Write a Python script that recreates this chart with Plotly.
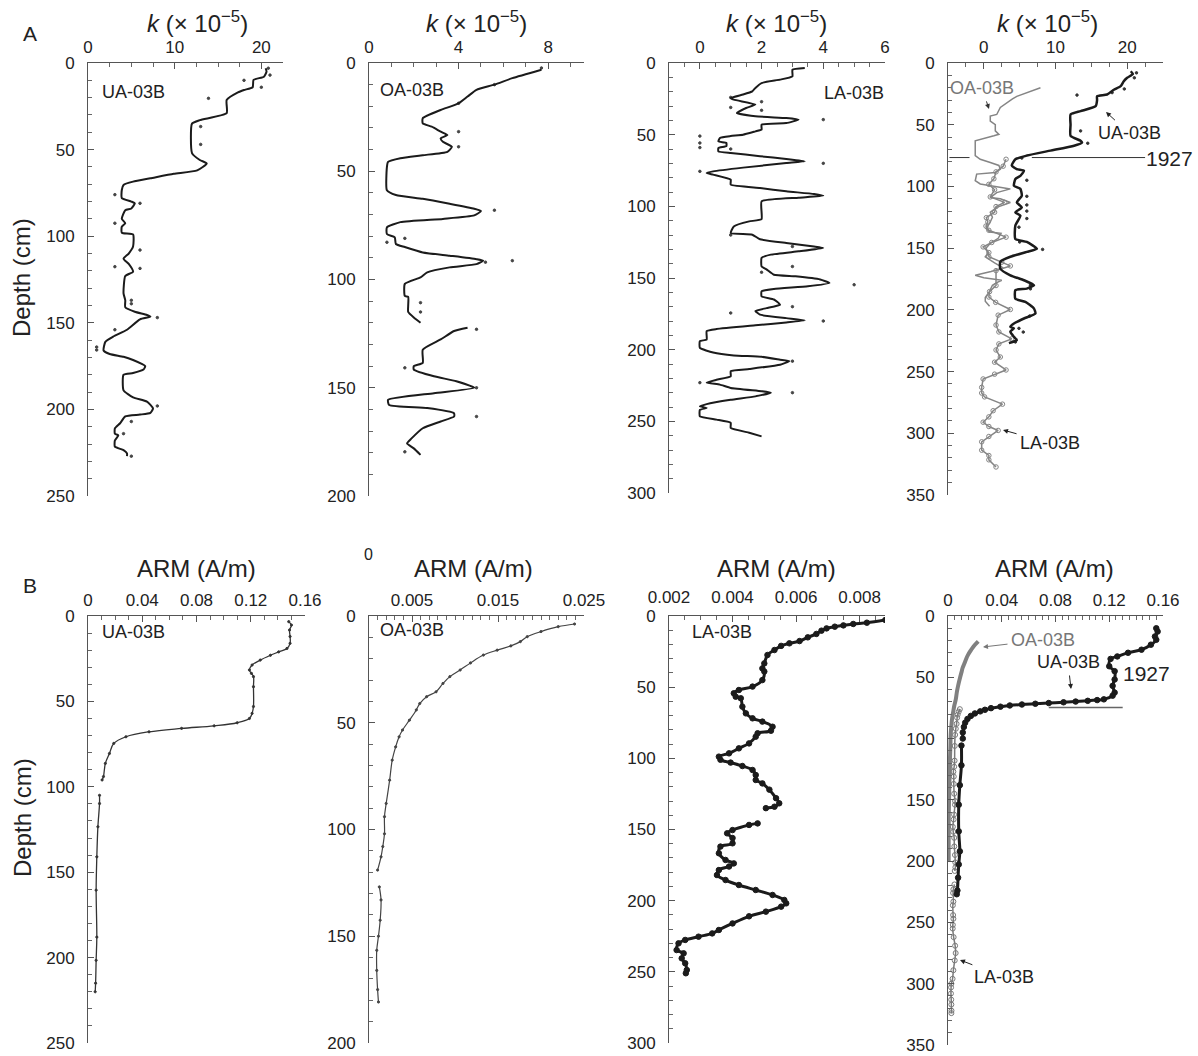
import plotly.graph_objects as go

# ------------------------------------------------------------------ data
# Row A : magnetic susceptibility k (x 10^-5) versus depth (cm)
# A1  UA-03B
ua_k_depth = [3, 5, 7.9, 9.8, 14, 15.6, 17, 21.4, 29, 33,
              35, 52, 56, 58, 62, 64, 66.6, 68.5, 70.4, 73.3,
              78, 80, 81, 84, 85, 90, 92.5, 94.5, 98, 99,
              106, 110, 113, 116, 120.5, 123, 133, 137, 141, 143.6,
              145.5, 146.5, 148, 154, 158, 161, 166, 168, 169.6, 171.5,
              175, 177, 179, 180, 189, 193, 195.5, 199.4, 202, 203,
              204, 208, 211, 214, 215, 218, 221.5, 223.5, 225.4, 227]
ua_k_val = [20.5, 20.6, 20.3, 19.1, 19.0, 18.0, 17.3, 16.0, 16.0, 12.9,
            12.0, 12.0, 12.9, 13.7, 12.6, 9.9, 7.2, 5.2, 4.1, 3.9,
            3.9, 5.0, 5.4, 5.0, 4.3, 3.9, 4.3, 3.9, 3.9, 5.2,
            5.2, 4.7, 4.1, 4.7, 5.2, 4.3, 4.1, 4.3, 4.3, 5.4,
            6.8, 7.2, 6.0, 4.5, 2.9, 2.0, 1.8, 2.5, 4.1, 5.2,
            6.6, 6.4, 5.2, 4.1, 4.1, 5.2, 6.8, 7.5, 7.2, 6.0,
            4.3, 3.7, 3.1, 3.1, 3.5, 3.1, 3.1, 4.1, 4.5, 4.5]
ua_k_pts_depth = [3, 7, 10, 14, 20.4, 36.7, 47, 76, 81, 92.5, 108, 117.6,
                  118.6, 137, 139, 147, 154, 164, 165.7, 198, 207, 214, 227]
ua_k_pts_val = [20.8, 21, 18, 20, 13.9, 13, 13, 3.1, 6, 3.1, 6, 3.1,
                6, 5, 5, 8, 3.1, 1, 1, 8, 5, 4.1, 5]

# A2  OA-03B
oa_k_depth = [3.1, 7, 10, 12.4, 15.5, 18.6, 21.7, 25.5, 27.9, 29.4,
              31.7, 33.3, 34.8, 36.4, 38.7, 41, 42.6, 44, 45.7, 48,
              58.8, 61, 62.7, 65, 67.3, 68.4, 70.4, 72, 73.5, 75.9,
              79, 80.5, 83.6, 85, 87.5, 89, 90.6, 91.3, 92.9, 94.4,
              96.7, 99, 102, 107.6, 108, 112, 115, 117.6, 120, None,
              122.3, 123.8, 127.7, 132.4, 138.5, 140, 141.6, 144.7, 147, 150,
              152.5, 155.6, 158, 159.4, 161.8, 163.3, 165.6, 168.7, 173.4, 175.7,
              178, 181]
oa_k_val = [7.7, 6.4, 5.6, 4.8, 4.4, 4.0, 3.2, 2.4, 2.4, 2.8,
            3.2, 3.5, 3.2, 3.3, 3.7, 3.5, 2.4, 1.4, 0.85, 0.8,
            0.8, 1.2, 2.4, 3.6, 4.7, 5.0, 4.7, 3.3, 1.4, 0.8,
            0.8, 1.15, 1.2, 1.6, 2.4, 3.6, 4.8, 5.1, 4.8, 3.6,
            2.6, 2.3, 1.6, 1.6, 1.75, 1.75, 1.75, 2.0, 2.3, None,
            4.4, 3.8, 3.2, 2.4, 2.4, 2.0, 2.0, 2.9, 3.9, 4.7,
            2.9, 0.85, 0.9, 2.6, 3.8, 3.8, 3.2, 2.4, 1.9, 1.7,
            2.0, 2.3]
oa_k_pts_depth = [2.3, 10, 18.6, 31.7, 38.7, 68, 92, 91.3, 82.8, 81, 110.7,
                  115, 123, 140.8, 150, 163.3, 179.6]
oa_k_pts_val = [7.7, 5.6, 4, 4, 4, 5.6, 5.2, 6.4, 0.8, 1.6, 2.3,
                2.3, 4.8, 1.6, 4.8, 4.8, 1.6]

# A3  LA-03B
la_k_depth = [3.5, 4.7, 9.3, 11.6, 14, 17.4, 19.8, 22, 24.4, 25.6,
              29, 31.4, 34.9, 37.2, 38.4, 39.5, 41.9, 43, 46.5, 47.7,
              50, 51, 52.3, 54.7, 55.8, 58, 59.3, 61.6, 62.8, 65,
              67, 68.6, 69.8, 73, 75.6, 76.7, 77.9, 81.4, 84.9, 87.2,
              89.5, 91.4, 92.6, 94, 96.5, 109, 110.5, 114, 118.6, 119.8,
              123, 125.6, 128, 129, 131.4, 133.7, 136, 142, 144, 147.7,
              148.8, 151, 153.5, 155.8, 157.7, 159.3, 162.8, 165, 168.6, 171,
              173, 175.6, 178, 179.5, 181, 183, 185.6, 187, 193, 194,
              198.8, 202, 204, 205, 207, 208, 210.5, 213.5, 215, 218.6,
              221, 223, 224.4, 226.7, 229, 230, 232.6, 235, 238, 239.5,
              240.7, 242, 246.5, 248.8, 251, 254.6, 258, 260.5]
la_k_val = [3.4, 3.0, 3.0, 2.6, 2.0, 1.8, 1.7, 1.4, 1.0, 1.1,
            1.8, 1.5, 1.2, 1.8, 2.8, 3.2, 2.8, 2.0, 2.0, 1.8,
            1.4, 1.0, 0.65, 0.6, 0.86, 0.86, 0.6, 0.6, 1.0, 1.95,
            2.8, 3.4, 2.8, 1.4, 0.43, 0.22, 0.43, 1.0, 1.0, 1.95,
            2.8, 3.7, 4.0, 3.2, 2.0, 2.0, 1.6, 1.1, 1.0, 1.7,
            1.95, 2.8, 3.7, 4.0, 3.2, 2.3, 2.0, 2.0, 2.16, 2.4,
            3.1, 3.9, 4.2, 3.5, 2.4, 2.0, 2.0, 2.4, 2.6, 2.16,
            1.8, 1.95, 2.8, 3.4, 2.8, 1.8, 0.54, 0.22, 0.22, 0.0,
            0.0, 0.43, 1.1, 2.0, 2.6, 2.9, 2.6, 1.6, 1.0, 1.0,
            0.54, 0.22, 0.65, 1.0, 2.0, 2.3, 1.8, 1.0, 0.22, 0.0,
            0.22, 0.0, 0.0, 0.54, 1.0, 1.0, 1.6, 2.0]
la_k_pts_depth = [51, 55.8, 59, 75.6, 39.5, 70, 128, 142, 170, 180, 154.7,
                  174.4, 208, 230, 223, 24, 27, 31, 33, 60, 120, 146]
la_k_pts_val = [0, 0, 0, 0, 4, 4, 3, 3, 3, 4, 5,
                1, 3, 3, 0, 1, 2, 1, 2, 1, 1, 2]

# A4  combined (correlated depths)
ua_k_c_depth = [6.7, 9, 12, 15, 18.8, 21.5, 25.5, 26.9, 30, 35,
                39, 41.7, 50, 59, 63, 64.5, 67, 71, 75, 78,
                83, 86, 87.4, 91.4, 94, 99.5, 102, 107.5, 113, 117,
                121, 123.7, 131.7, 142.5, 145, 150.5, 153, 157, 161, 166.7,
                172, 176, 180, 182.8, 184, 191, 193.5, 199, 203, 207,
                211, 213.7, 215, 217.7, 221.8, 224.5, 227]
ua_k_c_val = [20.5, 20.8, 20.0, 19.5, 19.1, 18.2, 17.2, 15.8, 15.8, 15.6,
              13.5, 12.1, 12.1, 12.1, 13.5, 13.7, 12.6, 9.3, 6.0, 4.4,
              3.9, 4.6, 5.6, 5.1, 4.4, 4.2, 5.1, 5.3, 4.6, 5.3,
              4.4, 5.1, 4.4, 4.4, 6.0, 7.4, 6.0, 3.7, 2.3, 2.3,
              3.7, 5.6, 7.0, 6.0, 4.4, 4.4, 5.8, 7.0, 7.2, 5.6,
              4.2, 3.7, 4.2, 3.7, 4.2, 4.6, 3.5]
ua_k_c_pts_depth = [8, 12, 21, 24, 26, 55, 65, 77, 95, 108, 115,
                    120, 126, 133, 145, 151, 180, 183, 205, 215, 218, 226]
ua_k_c_pts_val = [21.3, 21, 19.6, 17.9, 13, 13.5, 14.5, 5.3, 6, 6, 6,
                  6, 6, 4.9, 5, 8.2, 6.5, 6.5, 6.4, 4.9, 5.5, 4.4]
oa_k_c_depth = [20, 22, 24, 27, 29, 32, 36, 41.7, 43, 47,
                50, 55, 57.8, 59, 62, 63, 75, 78, 80.6, 83,
                86, 88.7, 90, 95.4, 98, 99.5, 101, 102, 105, 109,
                110, 113, 117, 121, 125, 130, 134, 137, 138, 142,
                146, 150, 154, 157, 162, 166, 169, 172, 174, 176,
                178, 180, 185, 190, 193, 197]
oa_k_c_val = [7.9, 7.0, 6.0, 4.6, 4.0, 3.2, 2.3, 1.8, 0.9, 0.9,
              1.6, 1.6, 2.1, 1.4, -0.5, -1.2, -1.2, -0.5, 0.9, 2.1,
              2.3, 1.6, -1.0, -1.2, -0.5, 0.9, 2.3, 3.7, 1.8, 0.9,
              2.3, 3.7, 1.8, 0.9, 1.2, 0.8, 0.3, 0.8, 2.4, 2.0,
              0.9, 0.3, 0.6, 0.2, 1.5, 2.7, 1.0, -1.2, 0.0, 2.5,
              1.8, 1.2, 0.8, 0.2, 0.2, 0.8]
la_k_c_depth = [78, 83.6, 88.2, 93.8, 98.3, 102.7, 108.5, 112.9, 116.3, 120.9,
                125.3, 128.7, 132.1, 135.5, 141.1, 145.4, 149, 153.6, 157, 161.4,
                164.4, 168.2, 180.3, 185.2, 189.6, 193.9, 199.7, 204.3, 212.3, 217.9,
                223.5, 227.6, 232.5, 238.2, 242.4, 248.7, 252.1, 256, 262.8, 267.4,
                270.5, 276.4, 281.7, 286.7, 291, 294.5, 297.7, 302.6, 306.9, 313.7,
                318, 321.5, 327.3]
la_k_c_val = [3.1, 2.7, 1.7, 1.4, 0.7, 1.5, 0.9, 2.9, 1.7, 1.5,
              0.35, 0.56, 0.3, 0.7, 3.1, 1.1, -0.1, 0.7, 0.7, 2.5,
              3.7, 1.7, 1.7, 0.8, 0.7, 1.65, 3.7, 2.0, 1.7, 2.1,
              3.9, 2.1, 1.7, 2.3, 1.5, 3.1, 1.5, -0.1, -0.3, -0.3,
              0.1, 2.6, 1.3, 0.7, -0.1, 0.7, 2.0, 0.7, -0.3, -0.3,
              0.7, 0.7, 1.7]

# Row B : ARM (A/m) versus depth (cm)
ua_arm_depth = [3.3, 5.3, 8.2, 12, 16, 19, 21, 23, 25.8, 28.7,
                31.6, 33.6, 35.5, 41.4, 53, 57, 60, 62.5, 64.3, 65.8,
                67.8, 70.7, 74.6, 80.5, 86.3, 94, 96, None, 105, 109.8,
                123.4, 141, 160.5, 188, 201.6, 215, 220]
ua_arm_val = [0.148, 0.150, 0.1486, 0.149, 0.149, 0.1467, 0.1406, 0.1345, 0.127, 0.121,
              0.119, 0.1205, 0.122, 0.122, 0.122, 0.121, 0.119, 0.110, 0.093, 0.069,
              0.045, 0.028, 0.019, 0.0158, 0.0128, 0.0114, 0.0104, None, 0.0085, 0.0085,
              0.0073, 0.0065, 0.006, 0.0065, 0.006, 0.0056, 0.0053]

oa_arm_depth = [3.75, 5, 7.3, 9.7, 12, 14, 16, 18.3, 22, 25.3,
                28.4, 31.6, 35.5, 37.8, 41, 44, 48.8, 53.4, 56.6, 61.3,
                67.5, 76.9, 87.8, 94, 102, 108, 112.8, 119, None, 126.9,
                133, 142.5, 150, 156.6, 166, 175, 180.8]
oa_arm_val = [0.0239, 0.022, 0.020, 0.0184, 0.0176, 0.0165, 0.0149, 0.0133, 0.0118, 0.0106,
              0.0094, 0.0086, 0.0078, 0.0067, 0.0059, 0.0055, 0.0047, 0.0039, 0.0035, 0.0031,
              0.0027, 0.0024, 0.002, 0.0018, 0.0018, 0.0016, 0.0014, 0.001, None, 0.0012,
              0.0014, 0.0013, 0.0011, 0.0009, 0.0009, 0.001, 0.0011]

la_arm_depth = [2.8, 4.7, 5.6, 6.6, 7.5, 8.7, 10.3, 12.6, 15, 17.6,
                19.2, 21, 23.9, 27.4, 33.3, 36.8, 39, 45, 49.6, 52,
                54.3, 56.7, 57.8, 63.7, 68.4, 71.9, 74.2, 77.8, 80.6, 82.4,
                84.8, 89.5, 93, 96.5, 98.8, 101, 103, 105.4, 108.2, 111.7,
                115.2, 117.6, 122, 128, 131.6, 134, 135, None, 145.7, 146.8,
                150.4, 152.7, 156, 159.7, 162, 166.7, 171.4, 173.8, 176, 178.5,
                182, 185.5, 189, 192.5, 196, 199.5, 201.9, 204.2, 207.7, 211,
                216, 220.6, 223, 225.3, 227.6, 230, 234.7, 237, 240.5, 244,
                248.7, 251]
la_arm_val = [0.00881, 0.00823, 0.0078, 0.00749, 0.00722, 0.00696, 0.0068, 0.00664, 0.00637, 0.00611,
              0.00579, 0.00553, 0.00532, 0.0051, 0.005, 0.00494, 0.005, 0.00494, 0.00463, 0.0042,
              0.00404, 0.0041, 0.00426, 0.00431, 0.00442, 0.00463, 0.00494, 0.00526, 0.00521, 0.00479,
              0.00473, 0.00452, 0.0042, 0.00389, 0.00357, 0.00362, 0.00394, 0.00431, 0.00463, 0.00473,
              0.00473, 0.00494, 0.00516, 0.00537, 0.00547, 0.00532, 0.00505, None, 0.00479, 0.00452,
              0.004, 0.00383, 0.004, 0.004, 0.00362, 0.00357, 0.00378, 0.00404, 0.00389, 0.00357,
              0.00351, 0.00378, 0.0042, 0.00473, 0.00526, 0.00563, 0.00569, 0.00553, 0.00505, 0.00452,
              0.004, 0.00357, 0.00336, 0.00293, 0.00251, 0.0023, 0.00224, 0.00246, 0.0024, 0.00251,
              0.00256, 0.00253]

ua_arm_c_depth = [10, 12.7, 16.7, 19.4, 23.4, 27.5, 30, 33, 35, 41,
                  45, 51.8, 57, 62.5, 65, 68, 68.6, 69.2, 69.8, 70.4,
                  71, 71.6, 72.2, 73, 74, 75.2, 76.5, 77.8, 79.5, 81.5,
                  84, 87, 90.5, 95, 100, None, 105.7, 121.8, 138, 154,
                  175.7, 192, 202.7, 213.5, 224, 227]
ua_arm_c_val = [0.155, 0.156, 0.154, 0.155, 0.151, 0.144, 0.134, 0.126, 0.121, 0.120,
                0.124, 0.124, 0.1225, 0.124, 0.1225, 0.116, 0.111, 0.104, 0.095, 0.086,
                0.075, 0.065, 0.055, 0.046, 0.039, 0.032, 0.0275, 0.024, 0.020, 0.017,
                0.0145, 0.0128, 0.0118, 0.011, 0.011, None, 0.010, 0.010, 0.0088, 0.008,
                0.008, 0.0088, 0.008, 0.0075, 0.007, 0.0065]
oa_arm_c_depth = [20.7, 24.8, 28, 31.5, 35, 38, 42, 46, 51, 57,
                  62, 68, 73, 78.7, 84, 89.5, 97, 105.7, 115, 127,
                  138, 148.8, 160, 175.7, 188, 200]
oa_arm_c_val = [0.0225, 0.019, 0.017, 0.015, 0.0135, 0.0125, 0.011, 0.010, 0.0088, 0.0075,
                0.0066, 0.0058, 0.0047, 0.0038, 0.003, 0.0025, 0.002, 0.0018, 0.0015, 0.0013,
                0.001, 0.0008, 0.0006, 0.0005, 0.0005, 0.0005]
la_arm_c_depth = [76, 78, 80.5, 83, 88, 92, 97, 106, 118, 123,
                  127, 131, 137, 145, 151, 154, 162, 166, 172, 176,
                  181, 188, 195, 201, 205, 208, None, 219, 223, 226,
                  233, 236, 244, 247, 252, 255, 262, 269, 275, 281,
                  289, 296, 300, 303, 308, 313, 317, 322, 324]
la_arm_c_val = [0.0088, 0.0080, 0.0072, 0.0068, 0.0064, 0.0058, 0.0053, 0.0050, 0.0049, 0.0046,
                0.0040, 0.0043, 0.0043, 0.0046, 0.0053, 0.0052, 0.0045, 0.0042, 0.0036, 0.0039,
                0.0046, 0.0047, 0.0052, 0.0054, 0.0055, 0.0050, None, 0.0048, 0.0040, 0.0038,
                0.0040, 0.0036, 0.0038, 0.0040, 0.0036, 0.0035, 0.0042, 0.0053, 0.0057, 0.0050,
                0.0040, 0.0034, 0.0025, 0.0023, 0.0022, 0.0024, 0.0025, 0.0026, 0.0025]

# tick labels
k1_ticks = [0, 10, 20]
k2_ticks = [0, 4, 8]
k3_ticks = [0, 2, 4, 6]
k4_ticks = [0, 10, 20]
arm1_ticks = [0, 0.04, 0.08, 0.12, 0.16]
arm2_ticks = [0.005, 0.015, 0.025]
arm3_ticks = [0.002, 0.004, 0.006, 0.008]
arm4_ticks = [0, 0.04, 0.08, 0.12, 0.16]
depth_1927 = 76.6
depth_1927_arm = 74.7

# ------------------------------------------------------------------ figure
W, H = 1198, 1056
FONT = "Liberation Sans, Arial, Helvetica, sans-serif"
BLACK = "#1b1b1b"


def PX(px):
    return px / W


def PY(py):
    return 1 - py / H


fig = go.Figure()


def ax(i):
    return ("x" if i == 1 else f"x{i}"), ("y" if i == 1 else f"y{i}")


def add(i, x, y, mode="lines", color=BLACK, width=2.0, msize=4, msym="circle",
        shape="linear", smoothing=1.0):
    xa, ya = ax(i)
    line = dict(color=color, width=width, shape=shape)
    if shape == "spline":
        line["smoothing"] = smoothing
    fig.add_trace(go.Scatter(
        x=x, y=y, mode=mode, xaxis=xa, yaxis=ya, line=line,
        marker=dict(size=msize, color=color, symbol=msym,
                    line=dict(width=1, color=color)),
        connectgaps=False, hoverinfo="skip", showlegend=False))


# A1-A3
add(1, ua_k_pts_val, ua_k_pts_depth, mode="markers", color="#444", msize=2.5)
add(1, ua_k_val, ua_k_depth, width=2, shape="spline", smoothing=0.5)
add(2, oa_k_pts_val, oa_k_pts_depth, mode="markers", color="#444", msize=2.5)
add(2, oa_k_val, oa_k_depth, width=2, shape="spline", smoothing=0.5)
add(3, la_k_pts_val, la_k_pts_depth, mode="markers", color="#444", msize=2.5)
add(3, la_k_val, la_k_depth, width=2, shape="spline", smoothing=0.4)
# A4
add(4, oa_k_c_val, oa_k_c_depth, color="#858585", width=1.5)
add(4, la_k_c_val, la_k_c_depth, mode="lines+markers", color="#858585", width=1.5,
    msize=4.5, msym="circle-open")
add(4, ua_k_c_pts_val, ua_k_c_pts_depth, mode="markers", color="#333", msize=2.5)
add(4, ua_k_c_val, ua_k_c_depth, width=2.5, shape="spline", smoothing=0.5)
# B1-B3
add(5, ua_arm_val, ua_arm_depth, mode="lines+markers", color="#333", width=1.3,
    msize=2.2, shape="spline")
add(6, oa_arm_val, oa_arm_depth, mode="lines+markers", color="#444", width=1.2,
    msize=2.2, shape="spline")
add(7, la_arm_val, la_arm_depth, mode="lines+markers", color=BLACK, width=3,
    msize=5.5, shape="spline")
# B4
add(8, oa_arm_c_val, oa_arm_c_depth, color="#808080", width=4, shape="spline")
add(8, la_arm_c_val, la_arm_c_depth, mode="lines+markers", color="#7a7a7a", width=1.5,
    msize=5, msym="circle-open", shape="spline")
add(8, ua_arm_c_val, ua_arm_c_depth, mode="lines+markers", color=BLACK, width=3,
    msize=5.5, shape="spline")

# panel geometry (pixels) and axes
panels = [
    (88, 283, 63, 496, [0, 22.5], 250, k1_ticks, 2.5, 0, 2),
    (369, 584, 63, 496, [0, 9.6], 200, k2_ticks, 1, 0, 2),
    (669, 885, 63, 493, [-1, 6], 300, k3_ticks, 0.5, 0, 2),
    (948, 1163, 63, 495, [-5, 25], 350, k4_ticks, 2.5, 0, 2),
    (88, 305, 616, 1043, [0, 0.16], 250, arm1_ticks, 0.01, 0, 2),
    (369, 584, 616, 1043, [0, 0.025], 200, arm2_ticks, 0.001, 0, 2),
    (669, 885, 616, 1043, [0.002, 0.0088], 300, arm3_ticks, 0.0005, 0.002, 5),
    (948, 1163, 616, 1045, [0, 0.16], 350, arm4_ticks, 0.005, 0, 2),
]

layout = dict(
    width=W, height=H, margin=dict(l=0, r=0, t=0, b=0),
    paper_bgcolor="white", plot_bgcolor="white",
    font=dict(family=FONT, color="#222"), showlegend=False,
)

for n, (x0, x1, y0, y1, xr, ymax, xt, xminor, xt0, xstand) in enumerate(panels, start=1):
    key = "" if n == 1 else str(n)
    layout["xaxis" + key] = dict(
        domain=[PX(x0), PX(x1)], anchor="y" + key, side="top", range=xr,
        tickmode="array", tickvals=xt, ticktext=[f"{v:g}" for v in xt],
        ticks="inside", ticklen=6, tickwidth=1, tickcolor="#555",
        minor=dict(dtick=xminor, tick0=xt0, ticks="inside", ticklen=4,
                   tickwidth=1, tickcolor="#666", showgrid=False),
        showline=True, linecolor="#555", linewidth=1, mirror=False,
        showgrid=False, zeroline=False, automargin=False,
        tickfont=dict(size=17, family=FONT, color="#222"), ticklabelstandoff=xstand,
        fixedrange=True)
    layout["yaxis" + key] = dict(
        domain=[PY(y1), PY(y0)], anchor="x" + key, range=[ymax, 0],
        tickmode="linear", tick0=0, dtick=50,
        ticks="inside", ticklen=6, tickwidth=1, tickcolor="#555",
        minor=dict(dtick=10, tick0=0, ticks="inside", ticklen=4,
                   tickwidth=1, tickcolor="#666", showgrid=False),
        showline=True, linecolor="#555", linewidth=1, mirror=False,
        showgrid=False, zeroline=False, automargin=False,
        tickfont=dict(size=17, family=FONT, color="#222"), ticklabelstandoff=9,
        fixedrange=True)

fig.update_layout(**layout)

ann = []


def text(px, py, s, size=18, color="#222", xanchor="center", angle=0):
    ann.append(dict(x=PX(px), y=PY(py), xref="paper", yref="paper", text=s,
                    showarrow=False, xanchor=xanchor, yanchor="middle",
                    textangle=angle, font=dict(size=size, color=color, family=FONT)))


def label_arrow(cx, cy, hx, hy, s, color="#222", acolor="#222", size=18):
    # label centred at (cx, cy) with an arrow pointing to (hx, hy)
    ann.append(dict(x=PX(hx), y=PY(hy), xref="paper", yref="paper", text=s,
                    showarrow=True, ax=cx - hx, ay=cy - hy, arrowhead=2,
                    arrowsize=1, arrowwidth=1, arrowcolor=acolor, standoff=0,
                    startstandoff=2,
                    font=dict(size=size, color=color, family=FONT)))


k_title = "<i>k</i> (× 10<sup>−5</sup>)"
for cx in (197, 476, 776, 1047):
    text(cx, 22, k_title, size=24)
for cx in (196, 474, 776, 1054):
    text(cx, 568, "ARM (A/m)", size=24)

text(30, 33, "A", size=21)
text(30, 585, "B", size=21)
text(22, 278, "Depth (cm)", size=24, angle=-90)
text(22, 818, "Depth (cm)", size=24, angle=-90)

# core labels
text(100, 92, "UA-03B", xanchor="left")
text(378, 90, "OA-03B", xanchor="left")
text(822, 93, "LA-03B", xanchor="left")
text(100, 632, "UA-03B", xanchor="left")
text(378, 630, "OA-03B", xanchor="left")
text(690, 632, "LA-03B", xanchor="left")

# stray "0" label above panel B2
text(368, 554, "0", size=16)

# A4 labels
label_arrow(982, 88, 989, 109, "OA-03B", color="#777", acolor="#333")
label_arrow(1129, 133, 1106, 112, "UA-03B")
text(1144, 158, "1927", size=21, xanchor="left")
label_arrow(1050, 443, 1003, 430, "LA-03B")

# B4 labels
label_arrow(1043, 640, 983, 647, "OA-03B", color="#777", acolor="#777")
label_arrow(1068, 662, 1071, 689, "UA-03B")
text(1121, 673, "1927", size=21, xanchor="left")
label_arrow(1004, 977, 960, 960, "LA-03B")

fig.update_layout(annotations=ann)

# 1927 marker lines
shapes = [
    dict(type="line", xref="x4", yref="y4", x0=-4.8, x1=-2.0,
         y0=depth_1927, y1=depth_1927, line=dict(color="#333", width=1)),
    dict(type="line", xref="x4", yref="y4", x0=6.7, x1=22.5,
         y0=depth_1927, y1=depth_1927, line=dict(color="#333", width=1)),
    dict(type="line", xref="x8", yref="y8", x0=0.075, x1=0.13,
         y0=depth_1927_arm, y1=depth_1927_arm, line=dict(color="#666", width=1.5)),
]
fig.update_layout(shapes=shapes)

fig.write_html("out.html")
